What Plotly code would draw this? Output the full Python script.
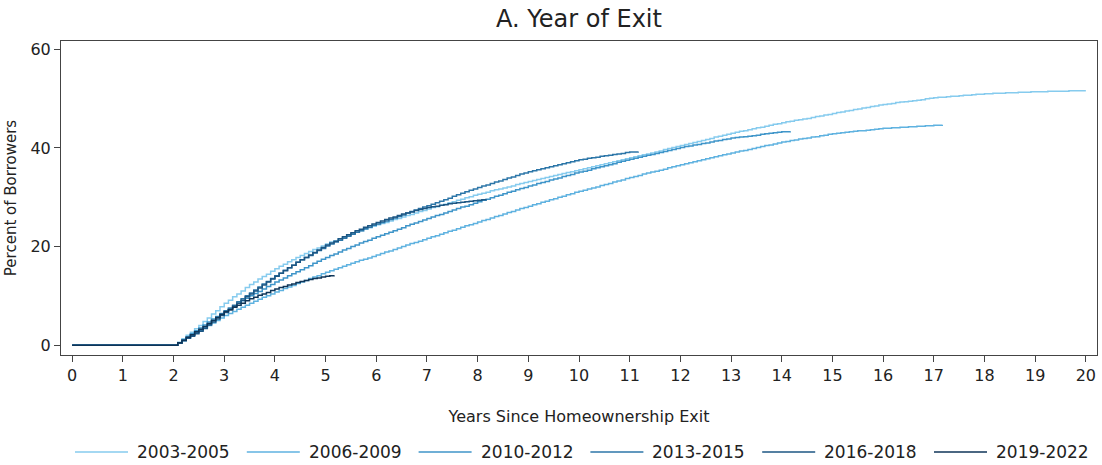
import numpy as np
import plotly.graph_objects as go

# Cumulative percent of borrowers, monthly, by cohort (year of homeownership exit).
# Every cohort is flat at zero for the first 25 months after exit.
LEAD_MONTHS = 25

cohorts = ["2003-2005", "2006-2009", "2010-2012", "2013-2015", "2016-2018", "2019-2022"]

pct_2003_2005 = [
    0.6, 1.3, 2.0, 2.6, 3.3, 4.0,
    4.8, 5.5, 6.3, 7.0, 7.8, 8.5,
    9.1, 9.8, 10.4, 11.0, 11.7, 12.3,
    12.8, 13.4, 13.9, 14.4, 15.0, 15.5,
    16.0, 16.4, 16.9, 17.3, 17.8, 18.2,
    18.6, 19.0, 19.4, 19.7, 20.1, 20.5,
    20.9, 21.2, 21.6, 21.9, 22.3, 22.6,
    22.9, 23.2, 23.5, 23.8, 24.1, 24.4,
    24.7, 24.9, 25.2, 25.5, 25.7, 26.0,
    26.3, 26.5, 26.8, 27.1, 27.3, 27.6,
    27.9, 28.1, 28.4, 28.6, 28.9, 29.1, 29.4, 29.6, 29.9, 30.1, 30.4, 30.6,
    30.8, 31.0, 31.3, 31.5, 31.7, 31.9, 32.1, 32.3, 32.6, 32.8, 33.0, 33.2,
    33.4, 33.6, 33.8, 34.0, 34.2, 34.4, 34.6, 34.8, 35.0, 35.2, 35.4, 35.6,
    35.8, 36.0, 36.2, 36.4, 36.6, 36.8, 37.0, 37.2, 37.4, 37.6, 37.8, 38.0,
    38.2, 38.4, 38.6, 38.8, 39.0, 39.2, 39.4, 39.7, 39.9, 40.1, 40.3, 40.5,
    40.7, 40.9, 41.1, 41.3, 41.5, 41.7, 41.9, 42.2, 42.4, 42.6, 42.8, 43.0,
    43.2, 43.4, 43.5, 43.7, 43.9, 44.1, 44.2, 44.4, 44.6, 44.8, 44.9, 45.1,
    45.3, 45.4, 45.6, 45.7, 45.9, 46.0, 46.2, 46.4, 46.5, 46.7, 46.8, 47.0,
    47.2, 47.3, 47.5, 47.6, 47.8, 47.9, 48.1, 48.2, 48.4, 48.5, 48.7, 48.8,
    48.9, 49.0, 49.2, 49.3, 49.4, 49.5, 49.6, 49.7, 49.8, 50.0, 50.1, 50.2,
    50.3, 50.3, 50.4, 50.5, 50.5, 50.6, 50.7, 50.7, 50.8, 50.9, 50.9, 51.0,
    51.0, 51.1, 51.1, 51.1, 51.2, 51.2, 51.2, 51.3, 51.3, 51.3, 51.4, 51.4,
    51.4, 51.4, 51.5, 51.5, 51.5, 51.5, 51.5, 51.6, 51.6, 51.6, 51.6, 51.6,
]

pct_2006_2009 = [
    0.4, 0.9, 1.4, 2.0, 2.5, 3.0,
    3.5, 4.0, 4.5, 5.0, 5.5, 6.0,
    6.4, 6.8, 7.3, 7.7, 8.1, 8.5,
    8.9, 9.3, 9.7, 10.0, 10.4, 10.8,
    11.1, 11.5, 11.8, 12.1, 12.5, 12.8,
    13.1, 13.5, 13.8, 14.1, 14.5, 14.8,
    15.1, 15.4, 15.7, 16.0, 16.3, 16.6,
    16.9, 17.2, 17.4, 17.7, 18.0, 18.3,
    18.6, 18.9, 19.1, 19.4, 19.7, 20.0, 20.3, 20.6, 20.8, 21.1, 21.4, 21.7,
    22.0, 22.2, 22.5, 22.8, 23.1, 23.3, 23.6, 23.9, 24.2, 24.4, 24.7, 25.0,
    25.3, 25.5, 25.8, 26.1, 26.3, 26.6, 26.9, 27.1, 27.4, 27.7, 27.9, 28.2,
    28.5, 28.7, 29.0, 29.2, 29.5, 29.7, 30.0, 30.2, 30.5, 30.7, 31.0, 31.2,
    31.4, 31.7, 31.9, 32.1, 32.4, 32.6, 32.8, 33.1, 33.3, 33.5, 33.8, 34.0,
    34.2, 34.4, 34.7, 34.9, 35.1, 35.3, 35.5, 35.7, 36.0, 36.2, 36.4, 36.6,
    36.8, 37.0, 37.2, 37.4, 37.6, 37.8, 38.0, 38.2, 38.4, 38.6, 38.8, 39.0,
    39.2, 39.4, 39.5, 39.7, 39.9, 40.1, 40.3, 40.5, 40.6, 40.8, 41.0, 41.2,
    41.3, 41.5, 41.6, 41.8, 41.9, 42.0, 42.2, 42.3, 42.5, 42.6, 42.8, 42.9,
    43.0, 43.1, 43.2, 43.3, 43.4, 43.5, 43.5, 43.6, 43.7, 43.8, 43.9, 44.0,
    44.0, 44.1, 44.1, 44.2, 44.2, 44.3, 44.3, 44.4, 44.4, 44.5, 44.5, 44.6,
    44.6, 44.7,
]

pct_2010_2012 = [
    0.5, 1.1, 1.7, 2.3, 2.9, 3.5,
    4.1, 4.7, 5.3, 5.8, 6.4, 7.0,
    7.5, 8.0, 8.5, 9.0, 9.5, 10.0,
    10.5, 10.9, 11.4, 11.9, 12.3, 12.8,
    13.2, 13.6, 14.1, 14.5, 14.9, 15.3,
    15.7, 16.1, 16.6, 17.0, 17.4, 17.8,
    18.2, 18.5, 18.9, 19.3, 19.6, 20.0,
    20.3, 20.7, 21.0, 21.3, 21.7, 22.0,
    22.3, 22.6, 22.9, 23.2, 23.5, 23.8, 24.2, 24.5, 24.8, 25.1, 25.4, 25.7,
    26.0, 26.3, 26.5, 26.8, 27.1, 27.4, 27.7, 28.0, 28.2, 28.5, 28.8, 29.1,
    29.4, 29.6, 29.9, 30.2, 30.4, 30.7, 31.0, 31.2, 31.5, 31.8, 32.0, 32.3,
    32.5, 32.8, 33.0, 33.2, 33.5, 33.7, 33.9, 34.2, 34.4, 34.6, 34.9, 35.1,
    35.3, 35.5, 35.8, 36.0, 36.2, 36.4, 36.6, 36.8, 37.1, 37.3, 37.5, 37.7,
    37.9, 38.1, 38.3, 38.5, 38.7, 38.9, 39.1, 39.3, 39.5, 39.7, 39.9, 40.1,
    40.3, 40.4, 40.6, 40.7, 40.9, 41.0, 41.2, 41.4, 41.5, 41.7, 41.8, 42.0,
    42.1, 42.2, 42.3, 42.4, 42.5, 42.6, 42.8, 42.9, 43.0, 43.1, 43.2, 43.3,
    43.3, 43.4,
]

pct_2013_2015 = [
    0.5, 1.0, 1.5, 2.0, 2.5, 3.0,
    3.7, 4.3, 5.0, 5.6, 6.3, 6.9,
    7.5, 8.1, 8.8, 9.4, 10.0, 10.6,
    11.2, 11.8, 12.4, 12.9, 13.5, 14.1,
    14.6, 15.2, 15.7, 16.2, 16.8, 17.3,
    17.8, 18.2, 18.7, 19.2, 19.6, 20.1,
    20.5, 20.9, 21.3, 21.7, 22.1, 22.5,
    22.9, 23.2, 23.6, 23.9, 24.3, 24.6,
    24.9, 25.2, 25.5, 25.8, 26.1, 26.4, 26.8, 27.1, 27.4, 27.7, 28.0, 28.3,
    28.6, 28.9, 29.2, 29.5, 29.8, 30.2, 30.5, 30.8, 31.1, 31.4, 31.7, 32.0,
    32.3, 32.5, 32.8, 33.1, 33.3, 33.6, 33.9, 34.1, 34.4, 34.7, 34.9, 35.2,
    35.4, 35.6, 35.8, 36.0, 36.2, 36.4, 36.6, 36.8, 37.0, 37.2, 37.4, 37.6,
    37.7, 37.9, 38.0, 38.1, 38.3, 38.4, 38.5, 38.7, 38.8, 38.9, 39.1, 39.2,
    39.2, 39.3,
]

pct_2016_2018 = [
    0.4, 0.9, 1.4, 1.8, 2.3, 2.8,
    3.4, 4.1, 4.7, 5.3, 6.0, 6.6,
    7.2, 7.9, 8.5, 9.1, 9.8, 10.4,
    11.0, 11.6, 12.2, 12.8, 13.4, 14.0,
    14.6, 15.1, 15.7, 16.2, 16.8, 17.3,
    17.8, 18.3, 18.8, 19.3, 19.8, 20.3,
    20.7, 21.1, 21.6, 22.0, 22.4, 22.8,
    23.2, 23.5, 23.9, 24.2, 24.6, 24.9,
    25.2, 25.5, 25.8, 26.0, 26.3, 26.6,
    26.8, 27.0, 27.3, 27.5, 27.7, 27.9,
    28.1, 28.2, 28.4, 28.5, 28.7, 28.8,
    28.9, 29.0, 29.1, 29.2, 29.3, 29.4,
    29.5, 29.6,
]

pct_2019_2022 = [
    0.5, 1.0, 1.6, 2.1, 2.7, 3.2,
    3.8, 4.4, 5.0, 5.6, 6.2, 6.8,
    7.2, 7.7, 8.1, 8.5, 9.0, 9.4,
    9.7, 10.1, 10.4, 10.7, 11.1, 11.4,
    11.7, 11.9, 12.2, 12.4, 12.7, 12.9,
    13.1, 13.3, 13.5, 13.6, 13.8, 14.0,
    14.1, 14.2,
]

series = [pct_2003_2005, pct_2006_2009, pct_2010_2012,
          pct_2013_2015, pct_2016_2018, pct_2019_2022]

colors = ["#86cbee", "#5fb2e0", "#3f95c9", "#2c76a8", "#1c5683", "#0f3558"]

x_ticks = list(range(0, 21))
y_ticks = [0, 20, 40, 60]

FONT = "DejaVu Sans"
TXT = "#222222"

# Figure geometry (pixels)
W, H = 1102, 465
M_L, M_R, M_T, M_B = 61, 5, 41, 110
PLOT_W = W - M_L - M_R
PLOT_H = H - M_T - M_B

fig = go.Figure()
for name, vals, col in zip(cohorts, series, colors):
    y = [0.0] * LEAD_MONTHS + list(vals)
    x = np.arange(len(y)) / 12.0
    fig.add_trace(go.Scatter(
        x=x, y=y, mode="lines", name=name, showlegend=False,
        line=dict(color=col, width=1.5, shape="hv"),
    ))

# Single-row legend along the bottom: a short line sample followed by the label.
LEG_X0 = 75          # left end of the first sample line
LEG_STEP = 171.8     # spacing between entries
LEG_LINE = 53        # sample line length
LEG_Y = 452          # row centre
def px_x(px):
    return (px - M_L) / PLOT_W
def px_y(py):
    return (H - M_B - py) / PLOT_H

for i, (name, col) in enumerate(zip(cohorts, colors)):
    x0 = LEG_X0 + i * LEG_STEP
    fig.add_shape(type="line", xref="paper", yref="paper",
                  x0=px_x(x0), x1=px_x(x0 + LEG_LINE), y0=px_y(LEG_Y), y1=px_y(LEG_Y),
                  line=dict(color=col, width=1.5))
    fig.add_annotation(xref="paper", yref="paper", x=px_x(x0 + LEG_LINE + 7), y=px_y(LEG_Y),
                       text=name, showarrow=False, xanchor="left", yanchor="middle",
                       font=dict(size=17, color=TXT, family=FONT))

fig.update_layout(
    width=W, height=H,
    margin=dict(l=M_L, r=M_R, t=M_T, b=M_B),
    paper_bgcolor="white", plot_bgcolor="white",
    font=dict(family=FONT, color=TXT, size=15),
    title=dict(text="A. Year of Exit", xref="paper", x=0.5, xanchor="center",
               y=0.961, yanchor="middle", font=dict(size=24, color=TXT)),
    showlegend=False,
)

fig.update_xaxes(
    range=[-0.22, 20.22], tickvals=x_ticks, ticktext=[str(v) for v in x_ticks],
    showgrid=False, zeroline=False, showline=True, linecolor="#444444", linewidth=1,
    mirror=True, ticks="outside", ticklen=6, tickcolor="#444444",
    tickfont=dict(size=16, color=TXT),
    title=dict(text="Years Since Homeownership Exit", standoff=26, font=dict(size=16, color=TXT)),
)
fig.update_yaxes(
    range=[-2.0, 61.7], tickvals=y_ticks, ticktext=[str(v) for v in y_ticks],
    showgrid=False, zeroline=False, showline=True, linecolor="#444444", linewidth=1,
    mirror=True, ticks="outside", ticklen=6, tickcolor="#444444",
    tickfont=dict(size=16, color=TXT),
    title=dict(text="Percent of Borrowers", standoff=10, font=dict(size=15, color=TXT)),
)

fig.write_html("out.html")
